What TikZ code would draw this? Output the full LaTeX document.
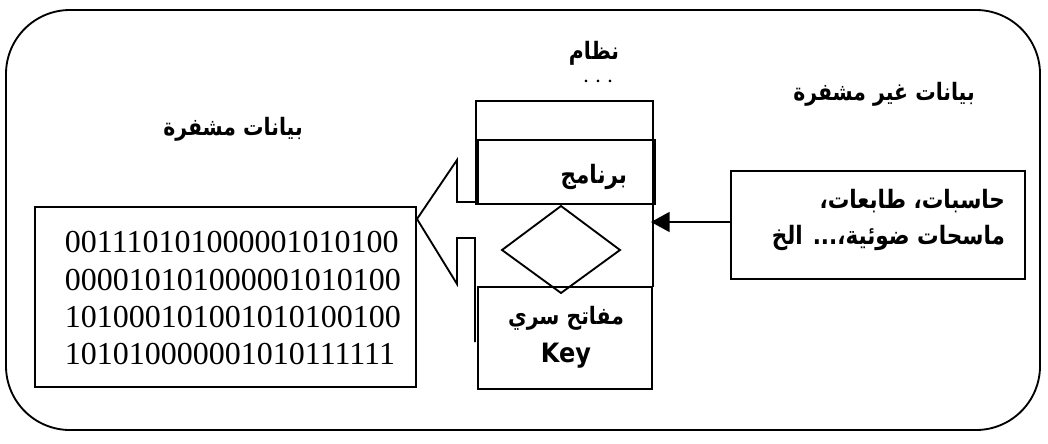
\documentclass[tikz,border=0pt]{standalone}
\usepackage{fontspec}
\setmainfont{Liberation Serif}
\newfontfamily\arabicfont[Script=Arabic,FakeStretch=0.85]{DejaVu Sans}
\newfontfamily\keyfont[FakeStretch=0.9]{DejaVu Sans}
\TeXXeTstate=1
\usetikzlibrary{arrows.meta,fit}
\begin{document}
\begin{tikzpicture}[x=0.75pt,y=-0.75pt,
  line width=1.4pt, line join=miter,
  box/.style={draw, rectangle, inner sep=0pt, line width=1.4pt},
  artext/.style={font=\arabicfont\bfseries\fontsize{18}{22}\selectfont, inner sep=0pt},
  srctext/.style={font=\arabicfont\bfseries\fontsize{19}{23}\selectfont, inner sep=0pt, anchor=east},
  bintext/.style={font=\fontsize{24}{28}\selectfont, align=left, inner sep=0pt},
  conn/.style={line width=1.4pt, -{Triangle[length=14pt,width=15pt]}}]
\useasboundingbox (0,0) rectangle (1048,443);
% outer rounded frame
\draw[rounded corners=48pt] (6,10) rectangle (1040,430);
% titles
\node[artext] (sys) at (594,53) {\beginR نظام\endR};
\node[font=\bfseries\fontsize{12}{12}\selectfont, inner sep=0pt] (dots) at (598,81) {.\hspace{6pt}.\hspace{6pt}.};
\node[artext] (plain) at (884,94) {\beginR بيانات غير مشفرة\endR};
\node[artext] (enc) at (233,129) {\beginR بيانات مشفرة\endR};
% column boxes
\node[box, fit={(476,101) (653,204)}] (topbox) {};
\node[box, fit={(478,140) (655,204)}] (prog) {};
\node[artext, anchor=east, font=\arabicfont\bfseries\fontsize{19}{23}\selectfont] (progt) at (628,177) {\beginR برنامج\endR};
\node[box, fit={(478,287) (652,389)}] (keybox) {};
\node[artext] (keyar) at (566,318) {\beginR مفاتح سري\endR};
\node[font=\keyfont\bfseries\fontsize{20}{24}\selectfont, inner sep=0pt] (keyen) at (566,356) {Key};
% right side of column between boxes
\coordinate (cr1) at (653,204);
\coordinate (cr2) at (653,287);
\draw (cr1) -- (cr2);
% diamond
\draw (502,250) -- (561,206) -- (620,250) -- (561,293) -- cycle;
% big hollow arrow
\draw (476,202) -- (457,202) -- (457,160) -- (417,219) -- (457,284) -- (457,238) -- (475,238) -- (475,342);
% source box
\node[box, fit={(731,171) (1025,279)}] (src) {};
\node[srctext] (src1) at (1006,201) {\beginR حاسبات، طابعات،\endR};
\node[srctext] (src2) at (1006,238) {\beginR ماسحات ضوئية،... الخ\endR};
\coordinate (colin) at (651,222);
\draw[conn] (src.west |- colin) -- (colin);
% encrypted data box
\node[box, fit={(35,207) (416,387)}] (bin) {};
\node[bintext, anchor=west] (b1) at (64,242) {001110101000001010100};
\node[bintext, anchor=west] (b2) at (64,280) {000010101000001010100};
\node[bintext, anchor=west] (b3) at (64,317) {101000101001010100100};
\node[bintext, anchor=west] (b4) at (64,354) {101010000001010111111};
\end{tikzpicture}
\end{document}
